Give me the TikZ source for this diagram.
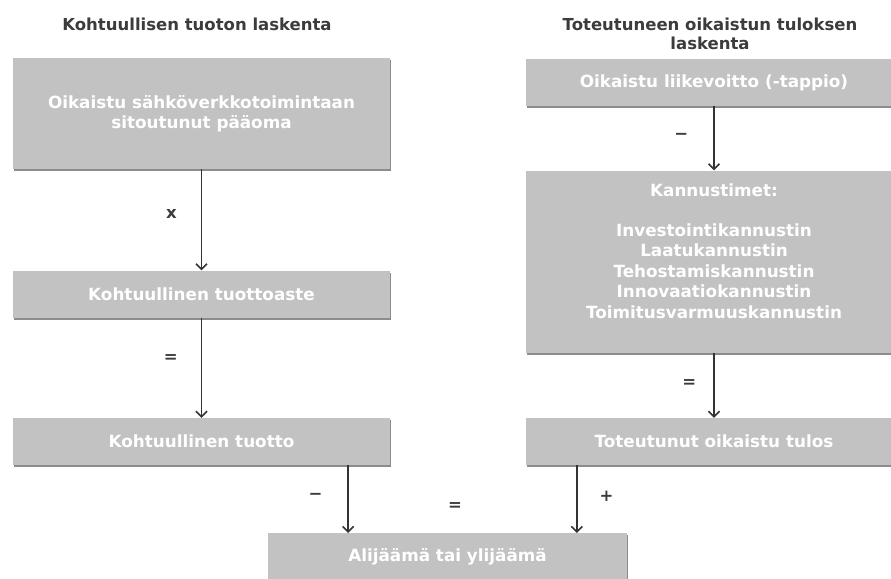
\documentclass[tikz,border=0pt]{standalone}
\usepackage{fontspec}
\setmainfont{DejaVu Sans}
\usetikzlibrary{arrows.meta,positioning,shadows}
\definecolor{boxgray}{RGB}{194,194,194}
\definecolor{textgray}{RGB}{60,60,60}
\tikzset{
    line/.style    = {-{Straight Barb[length=5.5pt,width=11pt,line width=1.6pt]}, line width=1.7pt, draw=textgray!85!black},
    block/.style   = {fill=boxgray, draw=none,
            minimum width=377pt, minimum height=47pt, inner sep=0pt,
            align=center, text=white,
            font=\bfseries\fontsize{16.8}{20.5}\selectfont,
            drop shadow={shadow xshift=1.2pt, shadow yshift=-2pt, fill=black!60, opacity=0.75}},
    heading/.style = {text=textgray, align=center, inner sep=0pt,
            font=\bfseries\fontsize{16.5}{19}\selectfont},
    sign/.style    = {text=textgray, inner sep=0pt,
            font=\bfseries\fontsize{16.5}{18}\selectfont},
}
\begin{document}
\begin{tikzpicture}[x=1pt,y=-1pt,node distance=101pt]
    \useasboundingbox (0,0) rectangle (891,578);
    % Left column
    \node[heading] (lefthead) at (197,24) {Kohtuullisen tuoton laskenta};
    \node[block, minimum height=111pt, anchor=north] (capital) at (201.5,58) {Oikaistu sähköverkkotoimintaan\\sitoutunut pääoma};
    \node[block, below=of capital] (rate) {Kohtuullinen tuottoaste};
    \node[block, below=100pt of rate] (return) {Kohtuullinen tuotto};
    % Right column
    \node[heading] (righthead) at (710,33.5) {Toteutuneen oikaistun tuloksen\\laskenta};
    \node[block, anchor=north] (profit) at (714,59) {Oikaistu liikevoitto (-tappio)};
    \node[block, minimum height=182pt, below=64pt of profit] (incentives) {Kannustimet:\\[19pt]Investointikannustin\\Laatukannustin\\Tehostamiskannustin\\Innovaatiokannustin\\Toimitusvarmuuskannustin\\\mbox{}};
    \node[block, below=65pt of incentives] (result) {Toteutunut oikaistu tulos};
    % Bottom
    \node[block, minimum width=359pt, anchor=north] (deficit) at (447.5,533) {Alijäämä tai ylijäämä};
    % Arrows
    \draw[line] (capital) -- node[sign, pos=0.44, left=24pt]{x} (rate);
    \draw[line] (rate) -- node[sign, pos=0.41, left=23pt]{=} (return);
    \draw[line] (profit) -- node[sign, pos=0.47, left=25pt]{−} (incentives);
    \draw[line] (incentives) -- node[sign, pos=0.48, left=17pt]{=} (result);
    \draw[line] ([xshift=-42pt]return.south east) -- node[sign, pos=0.46, left=25pt]{−} ([xshift=-42pt]return.south east |- deficit.north);
    \draw[line] ([xshift=51.5pt]result.south west) -- node[sign, pos=0.46, right=22pt]{+} ([xshift=51.5pt]result.south west |- deficit.north);
    \node[sign] (equals) at (455,507) {=};
\end{tikzpicture}
\end{document}
